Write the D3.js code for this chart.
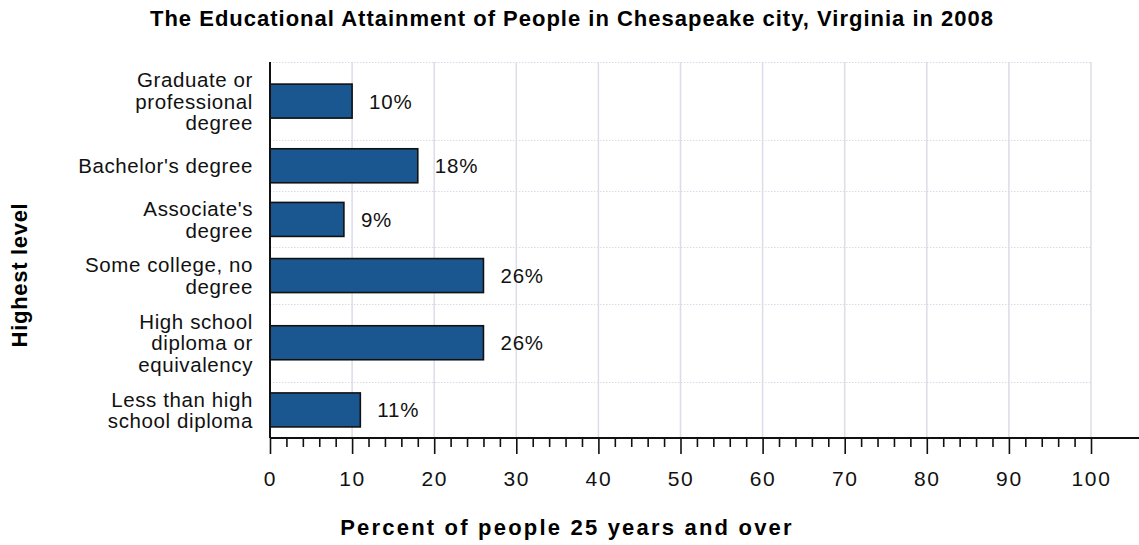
<!DOCTYPE html>
<html>
<head>
<meta charset="utf-8">
<script src="https://cdn.jsdelivr.net/npm/d3@7/dist/d3.min.js"></script>
<style>
  html, body { margin: 0; padding: 0; background: #fff; }
  svg { display: block; font-family: "Liberation Sans", Arial, sans-serif; }
</style>
</head>
<body>
<svg id="chart" width="1139" height="545"></svg>
<script>
// Educational attainment, Chesapeake city, Virginia, 2008
const categories = [
  "Graduate or professional degree",
  "Bachelor's degree",
  "Associate's degree",
  "Some college, no degree",
  "High school diploma or equivalency",
  "Less than high school diploma"
];
const categoryLines = [
  ["Graduate or", "professional", "degree"],
  ["Bachelor's degree"],
  ["Associate's", "degree"],
  ["Some college, no", "degree"],
  ["High school", "diploma or", "equivalency"],
  ["Less than high", "school diploma"]
];
const values = [10, 18, 9, 26, 26, 11];
const xTicks = [0, 10, 20, 30, 40, 50, 60, 70, 80, 90, 100];

const titleText = "The Educational Attainment of People in Chesapeake city, Virginia in 2008";
const xTitle = "Percent of people 25 years and over";
const yTitle = "Highest level";

const svg = d3.select("#chart");
const W = 1139, H = 545;
const plot = { left: 270, right: 1091, top: 62, bottom: 438 };

const x = d3.scaleLinear().domain([0, 100]).range([plot.left, plot.right]);

// Each row is as tall as its wrapped label needs
const lineH = 21.7;
const rowUnits = categoryLines.map(l => Math.max(51, l.length * 22 + 12));
const rowStart = d3.cumsum([0].concat(rowUnits));
const yUnits = d3.scaleLinear().domain([0, d3.sum(rowUnits)]).range([plot.top, plot.bottom]);
const rowTop = d3.scaleOrdinal().domain(categories).range(categories.map((c, i) => yUnits(rowStart[i])));
const rowBot = d3.scaleOrdinal().domain(categories).range(categories.map((c, i) => yUnits(rowStart[i + 1])));
const rowMid = c => (rowTop(c) + rowBot(c)) / 2;
const barH = 34;

const rows = categories.map((c, i) => ({ c, v: values[i], lines: categoryLines[i] }));

// Vertical gridlines
svg.append("g").selectAll("line").data(xTicks.filter(t => t > 0)).join("line")
  .attr("x1", d => x(d)).attr("x2", d => x(d))
  .attr("y1", plot.top).attr("y2", plot.bottom)
  .attr("stroke", "#dcdcea").attr("stroke-width", 1.5);

// Dotted row separators
const seps = [plot.top].concat(categories.slice(0, -1).map(c => rowBot(c)));
svg.append("g").selectAll("line").data(seps).join("line")
  .attr("x1", plot.left).attr("x2", plot.right)
  .attr("y1", d => Math.round(d) + 0.5).attr("y2", d => Math.round(d) + 0.5)
  .attr("stroke", "#d8d8e6").attr("stroke-width", 1.2)
  .attr("stroke-dasharray", "1.4,1.6");

// Bars
svg.append("g").selectAll("rect").data(rows).join("rect")
  .attr("x", x(0))
  .attr("y", d => rowMid(d.c) - barH / 2)
  .attr("width", d => x(d.v) - x(0))
  .attr("height", barH)
  .attr("fill", "#1a5791")
  .attr("stroke", "#111")
  .attr("stroke-width", 1.6);

// Value labels
svg.append("g").selectAll("text").data(rows).join("text")
  .attr("x", d => x(d.v) + 17)
  .attr("y", d => rowMid(d.c) + 7.5)
  .attr("font-size", 20.5)
  .attr("letter-spacing", 0.8)
  .attr("fill", "#111")
  .text(d => d.v + "%");

// Category labels
const catG = svg.append("g").selectAll("text").data(rows).join("text")
  .attr("text-anchor", "end")
  .attr("font-size", 20.5)
  .attr("letter-spacing", 0.6)
  .attr("fill", "#111");
catG.selectAll("tspan").data(d => d.lines.map((s, i) => ({ s, i, n: d.lines.length, c: d.c }))).join("tspan")
  .attr("x", 253)
  .attr("y", d => rowMid(d.c) + (d.i - (d.n - 1) / 2) * lineH + 7.5)
  .text(d => d.s);

// Axes
svg.append("line")
  .attr("x1", plot.left).attr("x2", plot.left)
  .attr("y1", plot.top).attr("y2", plot.bottom)
  .attr("stroke", "#111").attr("stroke-width", 2);

const xAxis = d3.axisBottom(x).tickValues(xTicks).tickSize(16).tickSizeOuter(0).tickFormat(d3.format("d"));
const minorTicks = d3.range(0, 101, 2).filter(t => t % 10 !== 0);
const xAxisMinor = d3.axisBottom(x).tickValues(minorTicks).tickSize(9).tickSizeOuter(0).tickFormat("");

const gMinor = svg.append("g").attr("transform", `translate(0,${plot.bottom})`).call(xAxisMinor);
gMinor.select(".domain").remove();
gMinor.selectAll(".tick line").attr("stroke", "#111").attr("stroke-width", 1.6);

const gx = svg.append("g").attr("transform", `translate(0,${plot.bottom})`).call(xAxis);
gx.select(".domain").remove();
gx.selectAll(".tick line").attr("stroke", "#111").attr("stroke-width", 1.6);
gx.selectAll(".tick text")
  .attr("y", 48).attr("dy", 0)
  .attr("font-size", 21)
  .attr("letter-spacing", 1.6)
  .attr("font-family", "Liberation Sans, Arial, sans-serif")
  .attr("fill", "#111");

svg.append("line")
  .attr("x1", plot.left).attr("x2", W)
  .attr("y1", plot.bottom).attr("y2", plot.bottom)
  .attr("stroke", "#111").attr("stroke-width", 2);

// Titles
svg.append("text")
  .attr("x", 572).attr("y", 26)
  .attr("text-anchor", "middle")
  .attr("font-size", 22).attr("font-weight", "bold")
  .attr("letter-spacing", 1.0)
  .attr("fill", "#000")
  .text(titleText);

svg.append("text")
  .attr("x", 567).attr("y", 535)
  .attr("text-anchor", "middle")
  .attr("font-size", 22).attr("font-weight", "bold")
  .attr("letter-spacing", 2.2)
  .attr("fill", "#000")
  .text(xTitle);

svg.append("text")
  .attr("transform", "translate(27,275) rotate(-90)")
  .attr("text-anchor", "middle")
  .attr("font-size", 22).attr("font-weight", "bold")
  .attr("letter-spacing", 0.7)
  .attr("fill", "#000")
  .text(yTitle);
</script>
</body>
</html>
